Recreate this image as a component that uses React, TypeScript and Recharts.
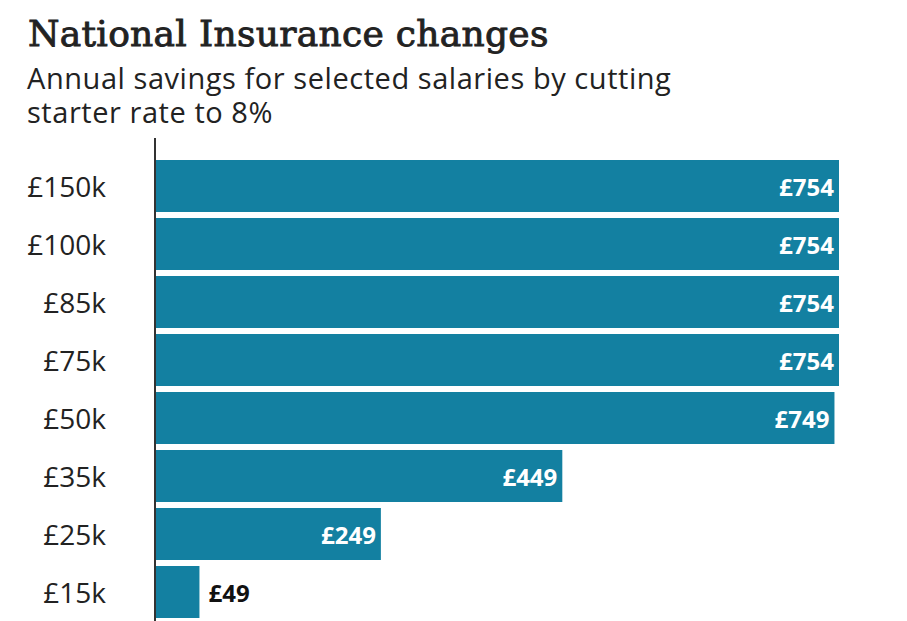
import React from "react";
import { BarChart, Bar, XAxis, YAxis, LabelList } from "recharts";

const salaries = ["£150k", "£100k", "£85k", "£75k", "£50k", "£35k", "£25k", "£15k"];
const savings = [754, 754, 754, 754, 749, 449, 249, 49];
const subtitleLines = ["Annual savings for selected salaries by cutting", "starter rate to 8%"];

const BAR_COLOR = "#1380a1";
const SANS = "'Open Sans', 'Noto Sans', sans-serif";

const data = salaries.map((s, i) => ({ salary: s, saving: savings[i] }));

const SalaryTick = (props: any) => {
  const { y, payload } = props;
  return (
    <text
      x={106}
      y={y}
      textAnchor="end"
      dominantBaseline="central"
      fill="#222"
      style={{ fontFamily: SANS, fontSize: 28 }}
    >
      {payload.value}
    </text>
  );
};

const ValueLabel = (props: any) => {
  const { x, y, width, height, value } = props;
  const inside = value > 100;
  return (
    <text
      x={inside ? x + width - 5 : x + width + 9}
      y={y + height / 2}
      textAnchor={inside ? "end" : "start"}
      dominantBaseline="central"
      fill={inside ? "#fff" : "#111"}
      style={{ fontFamily: SANS, fontSize: 24, fontWeight: 700 }}
    >
      £{value}
    </text>
  );
};

export default function App() {
  return (
    <div
      style={{
        position: "fixed",
        top: 0,
        left: 0,
        width: 907,
        height: 621,
        background: "#fff",
        overflow: "hidden",
      }}
    >
      <div
        style={{
          position: "absolute",
          left: 28,
          top: 13,
          fontFamily: "'DejaVu Serif', serif",
          fontSize: 36,
          fontWeight: 400,
          letterSpacing: 0.3,
          WebkitTextStroke: "0.9px #222",
          color: "#222",
          whiteSpace: "nowrap",
        }}
      >
        National Insurance changes
      </div>
      {subtitleLines.map((line, i) => (
        <div
          key={line}
          style={{
            position: "absolute",
            left: 27,
            top: 61 + i * 34,
            height: 34,
            fontFamily: SANS,
            fontSize: 29,
            lineHeight: "34px",
            letterSpacing: 0.55,
            color: "#222",
            whiteSpace: "nowrap",
          }}
        >
          {line}
        </div>
      ))}
      <BarChart
        layout="vertical"
        width={907}
        height={621}
        data={data}
        margin={{ top: 138, right: 68, bottom: 0, left: 0 }}
      >
        <XAxis type="number" domain={[0, 754]} hide />
        <YAxis
          type="category"
          dataKey="salary"
          width={155}
          tickLine={false}
          axisLine={{ stroke: "#333", strokeWidth: 2 }}
          padding={{ top: 19, bottom: 0 }}
          tick={<SalaryTick />}
        />
        <Bar dataKey="saving" fill={BAR_COLOR} barSize={52} isAnimationActive={false}>
          <LabelList dataKey="saving" content={<ValueLabel />} />
        </Bar>
      </BarChart>
    </div>
  );
}
